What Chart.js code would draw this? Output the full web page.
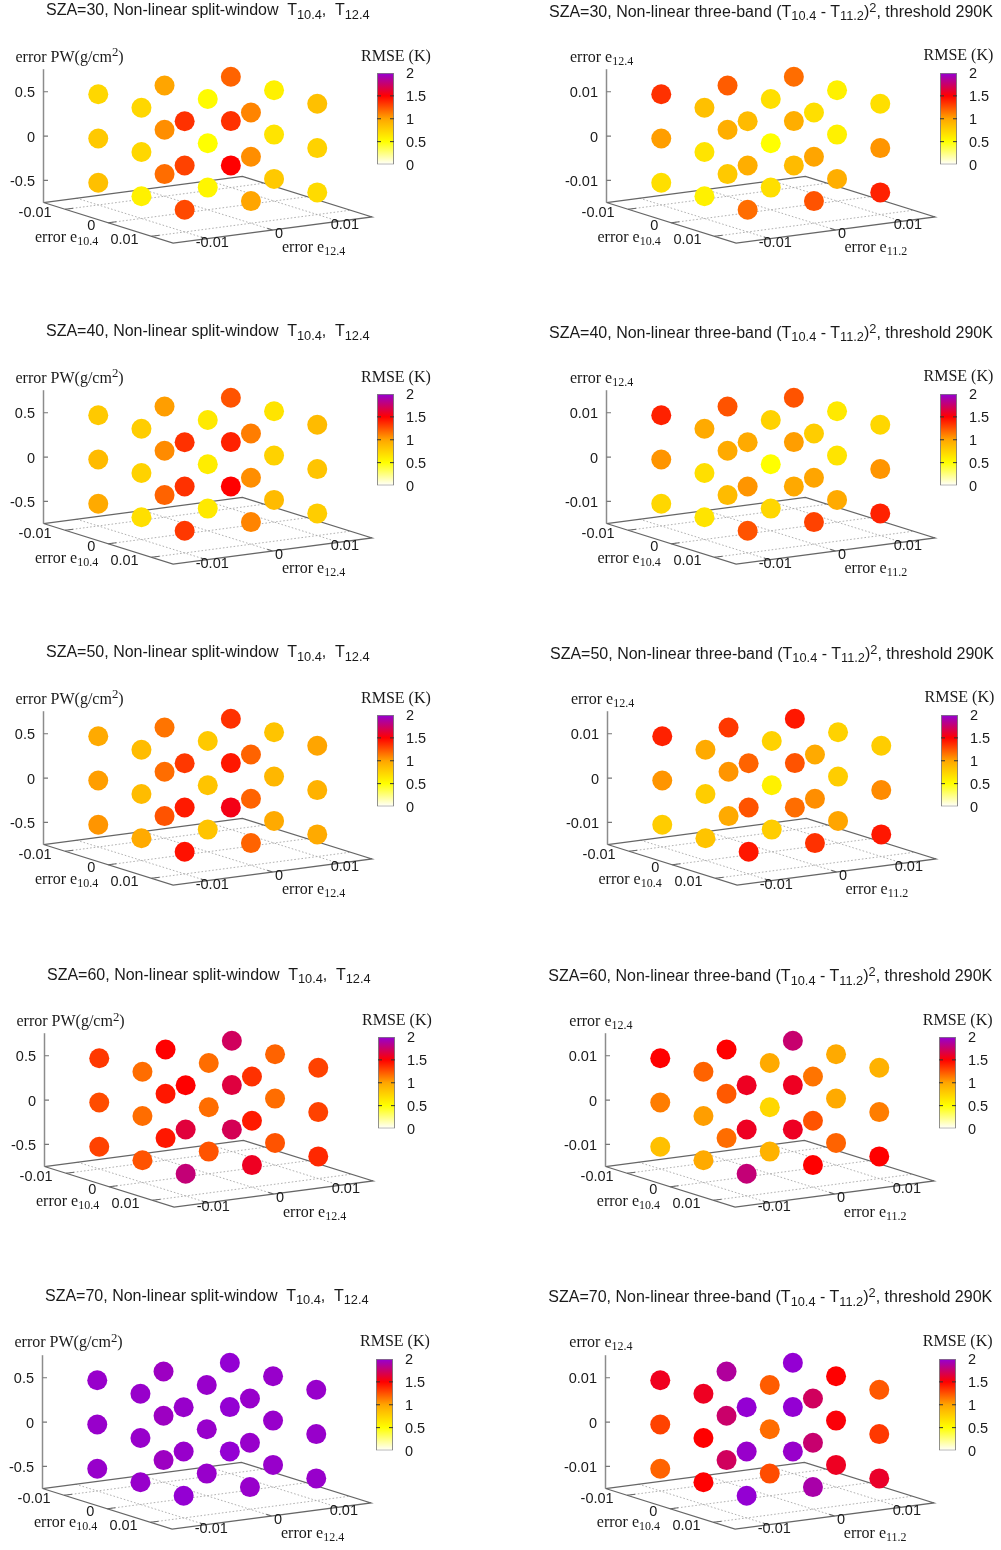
<!DOCTYPE html>
<html><head><meta charset="utf-8">
<style>
html,body{margin:0;padding:0;background:#fff;width:1001px;height:1550px;overflow:hidden}
#page{position:relative;width:1001px;height:1550px;filter:blur(.3px)}
canvas{position:absolute}
.t{position:absolute;white-space:pre;line-height:0;color:#1a1a1a}
.sans{font-family:"Liberation Sans",Arial,sans-serif}
.serif{font-family:"Liberation Serif","Times New Roman",serif}
.t .lo{position:relative;top:.27em;font-size:.8em}
.t .hi{position:relative;top:-.42em;font-size:.8em}
.serif .lo{font-size:.75em}
</style>
<script src="https://cdn.jsdelivr.net/npm/chart.js@4/dist/chart.umd.min.js"></script>
</head><body><div id="page"></div>
<script>
// Grid of the three error axes
const e1Levels = [-0.01, 0, 0.01];
const e2Levels = [-0.01, 0, 0.01];
const pwLevels = [0.5, 0, -0.5];
const e124Levels = [0.01, 0, -0.01];
const pwTickLabels = ['0.5', '0', '-0.5'];
const e124TickLabels = ['0.01', '0', '-0.01'];
const baseTickLabels = ['-0.01', '0', '0.01'];
const colorbarTicks = [0, 0.5, 1, 1.5, 2];

// Within a row: (e1,e2) = (-,-),(0,-),(+,-),(-,0),(0,0),(+,0),(-,+),(0,+),(+,+)
const rmse30Split = [
 [.72,.72,1.35,1.0,.52,1.1,1.2,.58,.85],
 [.8,.72,1.3,1.07,.5,1.07,1.35,.65,.75],
 [.85,.58,1.28,1.17,.55,1.0,1.5,.8,.7]];
const rmse30Three = [
 [1.35,.85,.88,1.22,.68,.68,1.17,.58,.68],
 [1.02,.65,.95,.95,.5,1.0,.95,.58,1.05],
 [.68,.58,1.17,.8,.68,1.25,.88,.95,1.4]];
const rmse40Split = [
 [.8,.78,1.35,1.02,.62,1.12,1.25,.65,.88],
 [.88,.75,1.35,1.08,.6,1.07,1.4,.75,.83],
 [.97,.68,1.33,1.2,.62,1.1,1.5,.88,.78]];
const rmse40Three = [
 [1.4,.97,.97,1.25,.75,.78,1.25,.62,.72],
 [1.05,.68,1.05,.97,.5,1.0,1.02,.65,1.05],
 [.72,.65,1.25,.88,.72,1.3,.98,.97,1.4]];
const rmse50Split = [
 [.97,.87,1.33,1.15,.8,1.2,1.35,.83,1.0],
 [1.02,.87,1.42,1.17,.83,1.2,1.43,.9,.93],
 [1.05,.97,1.45,1.25,.83,1.2,1.55,.97,.97]];
const rmse50Three = [
 [1.4,.97,1.2,1.33,.75,.97,1.43,.75,.78],
 [1.05,.78,1.25,1.05,.58,1.07,1.25,.78,1.08],
 [.78,.83,1.43,.97,.78,1.35,1.17,1.0,1.43]];
const rmse60Split = [
 [1.33,1.17,1.5,1.5,1.17,1.35,1.72,1.2,1.3],
 [1.27,1.17,1.64,1.43,1.17,1.42,1.65,1.17,1.3],
 [1.3,1.25,1.78,1.43,1.25,1.58,1.7,1.25,1.38]];
const rmse60Three = [
 [1.5,1.2,1.58,1.5,.97,1.15,1.76,.97,.93],
 [1.12,1.02,1.58,1.23,.72,1.25,1.58,.97,1.12],
 [.85,.97,1.78,1.17,.93,1.5,1.58,1.2,1.5]];
const rmse70Split = [
 [1.98,1.98,1.98,1.96,1.98,1.98,2,1.98,1.98],
 [1.98,1.98,1.98,1.96,1.98,1.98,2,1.98,1.98],
 [1.98,1.98,2,1.96,1.98,1.98,2,1.98,1.98]];
const rmse70Three = [
 [1.57,1.58,2,1.87,1.22,1.72,2,1.5,1.23],
 [1.3,1.5,1.98,1.75,1.17,1.76,2,1.52,1.33],
 [1.2,1.5,2,1.72,1.27,1.9,1.98,1.58,1.6]];

const panels = [
 {sza:30,kind:'split',dx:0,dy:0,rmse:rmse30Split},
 {sza:30,kind:'three',dx:562.5,dy:0,rmse:rmse30Three},
 {sza:40,kind:'split',dx:0,dy:321,rmse:rmse40Split},
 {sza:40,kind:'three',dx:562.5,dy:321,rmse:rmse40Three},
 {sza:50,kind:'split',dx:0,dy:642,rmse:rmse50Split},
 {sza:50,kind:'three',dx:563.5,dy:642,rmse:rmse50Three},
 {sza:60,kind:'split',dx:1,dy:964.3,rmse:rmse60Split},
 {sza:60,kind:'three',dx:561.8,dy:964.3,rmse:rmse60Three},
 {sza:70,kind:'split',dx:-1,dy:1285.5,rmse:rmse70Split},
 {sza:70,kind:'three',dx:561.8,dy:1285.5,rmse:rmse70Three}
];

const stops = [[0,[255,255,255]],[.5,[255,255,0]],[1,[255,165,0]],[1.5,[255,0,0]],[2,[148,0,211]]];
function colorOf(v){
  v=Math.max(0,Math.min(2,v));
  for(let i=1;i<stops.length;i++){
    if(v<=stops[i][0]){
      const a=stops[i-1],b=stops[i],t=(v-a[0])/(b[0]-a[0]);
      return 'rgb('+a[1].map((c,k)=>Math.round(c+(b[1][k]-c)*t)).join(',')+')';
    }
  }
}
// Gnuplot-style view: normalised ticks -> plane of the panel
function project(u,v,w){
  return {x:207.75+43.2*u+66.3*v, y:209.75+13.5*u-8.7*v-44.3*(w+1.5)};
}
const page=document.getElementById('page');
function label(cls,x,base,size,html){
  const d=document.createElement('div');
  d.className='t '+cls; d.style.left=x+'px';
  d.style.top=(base-size*0.33)+'px'; d.style.fontSize=size+'px';
  d.innerHTML=html; page.appendChild(d);
}
const sub=s=>'<span class="lo">'+s+'</span>';
const sup=s=>'<span class="hi">'+s+'</span>';

const axisLabelsPlugin={
  id:'axisLabels',
  afterDatasetsDraw(chart,args,o){
    const c=chart.ctx,sx=chart.scales.x,sy=chart.scales.y;
    c.save();
    c.font='14.5px "Liberation Sans",Arial,sans-serif';
    c.fillStyle='#1a1a1a';c.textBaseline='middle';
    o.items.forEach(it=>{
      const p=project(it.u,it.v,it.w);
      c.textAlign=it.align;
      c.fillText(it.text,sx.getPixelForValue(p.x)+it.ox,sy.getPixelForValue(p.y)+it.oy);
    });
    c.restore();
  }
};

function segs(list){ // list of [[u,v,w],[u,v,w]]
  const out=[];
  list.forEach((s,i)=>{ if(i) out.push({x:NaN,y:NaN}); s.forEach(q=>out.push(project(q[0],q[1],q[2]))); });
  return out;
}
const lineDs=(data,color,width,dash)=>({type:'scatter',data,showLine:true,pointRadius:0,borderColor:color,borderWidth:width,borderDash:dash||[],fill:false,spanGaps:false,tension:0,clip:false});

panels.forEach(P=>{
  const three=P.kind==='three';
  const zLevels=three?e124Levels:pwLevels;
  const zMax=zLevels[0];
  const zLabels=three?e124TickLabels:pwTickLabels;
  const points=[],colors=[];
  zLevels.forEach((z,r)=>{
    let k=0;
    e2Levels.forEach(e2=>e1Levels.forEach(e1=>{
      points.push(project(e1/0.01,e2/0.01,z/zMax));
      colors.push(colorOf(P.rmse[r][k])); k++;
    }));
  });
  const ticks=e1Levels.map(e=>e/0.01);
  const grid=segs([
    ...ticks.map(t=>[[t,-1.5,-1.5],[t,1.5,-1.5]]),
    ...ticks.map(t=>[[-1.5,t,-1.5],[1.5,t,-1.5]])]);
  const frontTicks=segs([
    ...ticks.map(t=>[[t,-1.5,-1.5],[t,-1.38,-1.5]]),
    ...ticks.map(t=>[[1.5,t,-1.5],[1.38,t,-1.5]])]);
  const frame=segs([[[-1.5,-1.5,-1.5],[1.5,-1.5,-1.5],[1.5,1.5,-1.5],[-1.5,1.5,-1.5],[-1.5,-1.5,-1.5]]]);
  const zAxis=segs([[[-1.5,-1.5,-1.5],[-1.5,-1.5,1.51]]]);
  const zTicks=zLevels.map(z=>z/zMax).reduce((acc,w,i)=>{
    if(i) acc.push({x:NaN,y:NaN});
    const p=project(-1.5,-1.5,w);
    acc.push(p,{x:p.x+4.5,y:p.y});
    return acc;
  },[]);
  const items=[];
  zLevels.forEach((z,i)=>items.push({u:-1.5,v:-1.5,w:z/zMax,text:zLabels[i],align:'right',ox:-8.5,oy:1.5}));
  baseTickLabels.forEach((t,i)=>{
    items.push({u:e1Levels[i]/0.01,v:-1.5,w:-1.5,text:t,align:'center',ox:[-30,-17,-27][i],oy:[3.5,3.5,3.5][i]});
    items.push({u:1.5,v:e2Levels[i]/0.01,w:-1.5,text:t,align:'center',ox:[6,6.5,6][i],oy:[4,3.5,3.5][i]});
  });

  const cv=document.createElement('canvas');
  const W=380,H=200,top=60;
  cv.width=W;cv.height=H;cv.style.width=W+'px';cv.style.height=H+'px';
  cv.style.left=P.dx+'px';cv.style.top=(P.dy+top)+'px';
  page.appendChild(cv);
  new Chart(cv,{
    type:'scatter',
    data:{datasets:[
      {data:points,pointBackgroundColor:colors,pointBorderWidth:0,pointRadius:10,showLine:false,order:0,clip:false},
      Object.assign(lineDs(frontTicks,'#666',1.1),{order:1}),
      Object.assign(lineDs(zTicks,'#777',1.1),{order:1}),
      Object.assign(lineDs(frame,'#666',1.2),{order:2}),
      Object.assign(lineDs(zAxis,'#8c8c8c',1.5),{order:2}),
      Object.assign(lineDs(grid,'#a8a8a8',.9,[1.6,2]),{order:3})
    ]},
    options:{
      responsive:false,animation:false,devicePixelRatio:1,
      layout:{padding:0,autoPadding:false},
      scales:{
        x:{type:'linear',display:false,min:0,max:W},
        y:{type:'linear',display:false,min:top,max:top+H,reverse:true}
      },
      plugins:{legend:{display:false},tooltip:{enabled:false},axisLabels:{items}}
    },
    plugins:[axisLabelsPlugin]
  });

  // colour bar
  const cb=document.createElement('canvas');
  cb.width=58;cb.height=115;cb.style.width='58px';cb.style.height='115px';
  cb.style.left=(P.dx+372)+'px';cb.style.top=(P.dy+60)+'px';
  page.appendChild(cb);
  new Chart(cb,{
    type:'bar',
    data:{labels:['RMSE'],datasets:[{
      data:[[0,2]],barPercentage:1,categoryPercentage:1,borderColor:'#808080',borderWidth:1.2,borderSkipped:false,
      backgroundColor(ctx){
        const a=ctx.chart.chartArea; if(!a) return '#fff';
        const g=ctx.chart.ctx.createLinearGradient(0,a.bottom,0,a.top);
        stops.forEach(s=>g.addColorStop(s[0]/2,colorOf(s[0])));
        return g;
      }
    }]},
    options:{
      responsive:false,animation:false,devicePixelRatio:1,
      layout:{padding:{left:5,top:13,bottom:10.5,right:0},autoPadding:false},
      scales:{
        x:{display:false},
        y:{position:'right',min:0,max:2,afterFit(s){s.width=36;s.paddingTop=0;s.paddingBottom=0},
           afterBuildTicks(s){s.ticks=colorbarTicks.map(value=>({value}))},
           grid:{display:false,drawTicks:false},border:{display:false},
           ticks:{padding:12,labelOffset:1.2,color:'#1a1a1a',font:{family:'"Liberation Sans",Arial,sans-serif',size:14.5},
                  callback:v=>String(v)}}
      },
      plugins:{legend:{display:false},tooltip:{enabled:false}}
    },
    plugins:[{id:'cbTicks',afterDatasetsDraw(ch){
      const c=ch.ctx,a=ch.chartArea,s=ch.scales.y;
      c.save();c.strokeStyle='#333';c.lineWidth=1;
      [0.5,1,1.5].forEach(v=>{const y=s.getPixelForValue(v);
        c.beginPath();c.moveTo(a.left,y);c.lineTo(a.left+4,y);c.moveTo(a.right-4,y);c.lineTo(a.right,y);c.stroke();});
      c.restore();
    }}]
  });

  // rich text
  if(three){
    label('sans',P.dx-13.5,P.dy+17.2,16,'SZA='+P.sza+', Non-linear three-band (T'+sub('10.4')+' - T'+sub('11.2')+')'+sup('2')+', threshold 290K');
    label('serif',P.dx+7.5,P.dy+62,16,'error e'+sub('12.4'));
  } else {
    label('sans',P.dx+46,P.dy+15.5,16,'SZA='+P.sza+', Non-linear split-window  T'+sub('10.4')+',  T'+sub('12.4'));
    label('serif',P.dx+15.5,P.dy+62,16,'error PW(g/cm'+sup('2')+')');
  }
  label('serif',P.dx+361,P.dy+(three?60.5:61),16,'RMSE (K)');
  label('serif',P.dx+35,P.dy+242,16,'error e'+sub('10.4'));
  label('serif',P.dx+282,P.dy+252.5,16,'error e'+sub(three?'11.2':'12.4'));
});
</script></body></html>
